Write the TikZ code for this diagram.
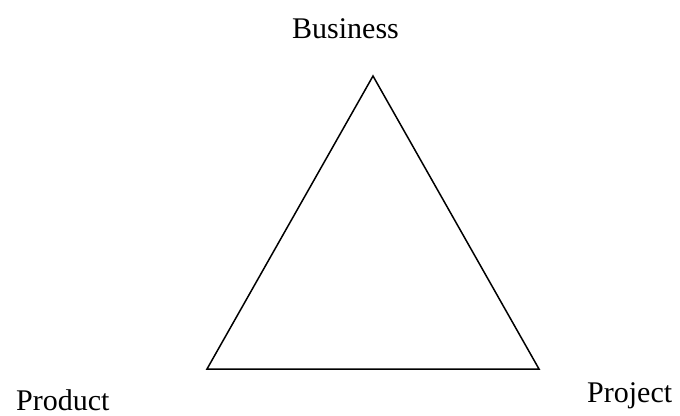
\documentclass[tikz,border=0pt]{standalone}
\usepackage{fontspec}
\setmainfont{Liberation Serif}
\begin{document}
\begin{tikzpicture}[x=1pt,y=-1pt,
  lbl/.style={inner sep=0pt,anchor=base west,font=\fontsize{30}{36}\selectfont},
  edge/.style={draw=black,line width=1.5pt,line join=miter}]
\useasboundingbox (0,0) rectangle (680,415);
\coordinate (top) at (373,76);
\coordinate (bl) at (207,369);
\coordinate (br) at (539,369);
\draw[edge] (top) -- (bl) -- (br) -- cycle;
\node[lbl] (business) at (292,38) {Business};
\node[lbl] (product) at (16,410) {Product};
\node[lbl] (project) at (587,402) {Project};
\end{tikzpicture}
\end{document}
